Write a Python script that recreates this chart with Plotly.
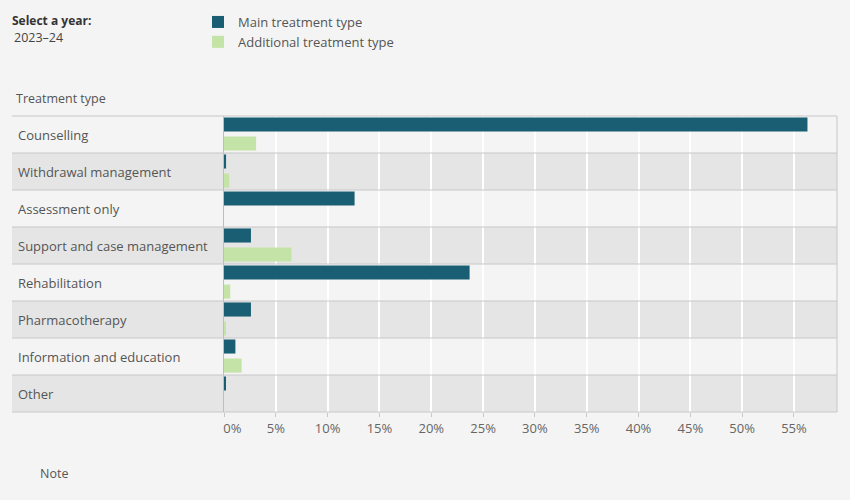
import plotly.graph_objects as go

categories = ["Counselling", "Withdrawal management", "Assessment only",
              "Support and case management", "Rehabilitation", "Pharmacotherapy",
              "Information and education", "Other"]
main_pct = [56.3, 0.2, 12.6, 2.6, 23.7, 2.6, 1.1, 0.1]
additional_pct = [3.1, 0.5, 0.0, 6.5, 0.6, 0.1, 1.7, 0.0]
tick_vals = [0, 5, 10, 15, 20, 25, 30, 35, 40, 45, 50, 55]
tick_text = ["\u00a0\u00a0\u00a0\u00a0\u00a00%"] + [f"{v}%" for v in tick_vals[1:]]

FONT = "Open Sans"
MAIN_C = "#195e72"
ADD_C = "#c4e3a6"
BG = "#f4f4f4"
BAND = "#e5e5e5"
LINE = "#c8c8c8"

W, H = 850, 500
L, R, T, B = 224, 13, 116, 88
pw = W - L - R
ph = H - T - B
label_left_px = 12
x0_paper = (label_left_px - L) / pw


def px_x(p):
    return (p - L) / pw


def px_y(p):
    return 1 - (p - T) / ph


fig = go.Figure()
fig.add_trace(go.Bar(y=categories, x=main_pct, orientation="h", name="Main treatment type",
                     marker=dict(color=MAIN_C, line=dict(width=0)), width=0.38, offset=-0.46))
fig.add_trace(go.Bar(y=categories, x=additional_pct, orientation="h", name="Additional treatment type",
                     marker=dict(color=ADD_C, line=dict(width=0)), width=0.38, offset=0.055))

n = len(categories)
shapes = []
for i in range(n):
    y_top = 1 - i / n
    y_bot = 1 - (i + 1) / n
    if i % 2 == 1:
        shapes.append(dict(type="rect", xref="paper", yref="paper", x0=x0_paper, x1=1,
                           y0=y_bot, y1=y_top, fillcolor=BAND, line=dict(width=0), layer="below"))
for i in range(n + 1):
    y = 1 - i / n
    shapes.append(dict(type="line", xref="paper", yref="paper", x0=x0_paper, x1=1,
                       y0=y, y1=y, line=dict(color=LINE, width=1), layer="above"))
shapes.append(dict(type="line", xref="paper", yref="paper", x0=1, x1=1, y0=0, y1=1,
                   line=dict(color=LINE, width=1), layer="above"))

annotations = []
for c in categories:
    annotations.append(dict(text=c, xref="paper", yref="y", x=px_x(16), y=c,
                            xanchor="left", yanchor="middle", showarrow=False,
                            font=dict(family=FONT, size=13, color="#555555")))
annotations += [
    dict(text="Treatment type", xref="paper", yref="paper", x=px_x(14), y=px_y(98),
         xanchor="left", yanchor="middle", showarrow=False,
         font=dict(family=FONT, size=12.5, color="#555555")),
    dict(text="<b>Select a year:</b>", xref="paper", yref="paper", x=px_x(10),
         y=px_y(21), xanchor="left", yanchor="middle", showarrow=False,
         font=dict(family=FONT, size=12, color="#333333")),
    dict(text="2023–24", xref="paper", yref="paper", x=px_x(12),
         y=px_y(38), xanchor="left", yanchor="middle", showarrow=False,
         font=dict(family=FONT, size=12.5, color="#444444")),
    dict(text="Note", xref="paper", yref="paper", x=px_x(38),
         y=px_y(473), xanchor="left", yanchor="middle", showarrow=False,
         font=dict(family=FONT, size=12.5, color="#555555")),
]

fig.update_layout(
    width=W, height=H,
    margin=dict(l=L, r=R, t=T, b=B, pad=0, autoexpand=False),
    paper_bgcolor=BG, plot_bgcolor=BG,
    barmode="overlay",
    font=dict(family=FONT, size=13, color="#666666"),
    shapes=shapes, annotations=annotations,
    legend=dict(x=px_x(198), y=px_y(7), xanchor="left", yanchor="top",
                orientation="v", bgcolor="rgba(0,0,0,0)", tracegroupgap=0,
                font=dict(family=FONT, size=13, color="#555555"), traceorder="normal"),
    xaxis=dict(range=[0, 59.15], tickvals=tick_vals, ticktext=tick_text, showgrid=True,
               gridcolor="#ffffff", gridwidth=1.5, zeroline=False, ticks="outside", ticklen=4,
               tickcolor=LINE, showline=False, tickfont=dict(family=FONT, size=13, color="#666666"),
               fixedrange=True),
    yaxis=dict(categoryorder="array", categoryarray=categories, range=[n - 0.5, -0.5],
               showticklabels=False, showgrid=False, zeroline=False, showline=True,
               linecolor="#bdbdbd", linewidth=1, ticks="", fixedrange=True),
)

fig.write_html("out.html")
